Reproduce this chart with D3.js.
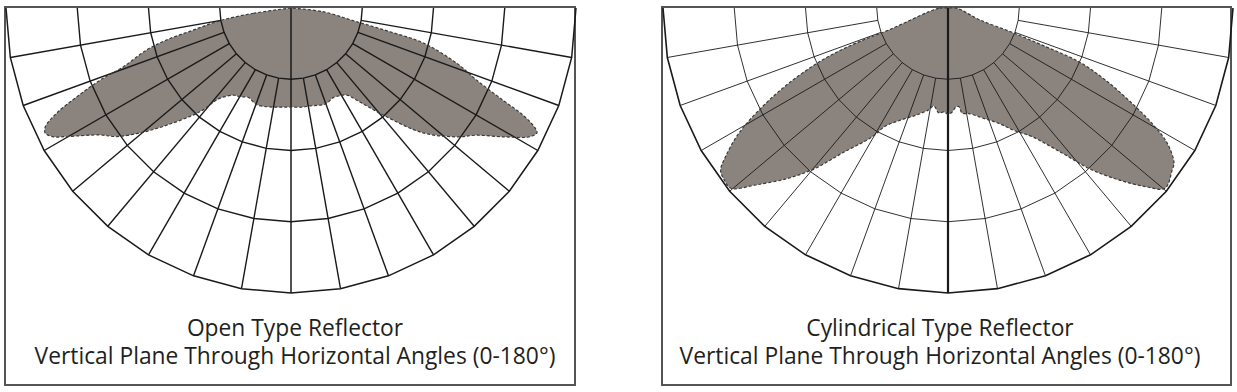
<!DOCTYPE html>
<html>
<head>
<meta charset="utf-8">
<script src="https://cdn.jsdelivr.net/npm/d3@7"></script>
<style>
  body { margin: 0; background: #fff; }
  text { font-family: "Open Sans", "Noto Sans", sans-serif; fill: #231f20; }
</style>
</head>
<body>
<svg id="canvas" width="1237" height="392"></svg>
<script>
// ###############
// chart data (angles in degrees from nadir, + = right side)
// ###############
var ringValues  = [100, 200, 300, 400];
var spokeAngles = [-80, -70, -60, -50, -40, -30, -20, -10, 10, 20, 30, 40, 50, 60, 70, 80];
var ringAngles  = [-90, -80, -70, -60, -50, -40, -30, -20, -10, 0, 10, 20, 30, 40, 50, 60, 70, 80, 90];

// Open type reflector curve
var openAngles = [-90, -82, -79.9, -77.3, -75.6, -73.8, -70.7, -69.3, -67.5, -65.8, -64.2, -63, -61.5,
                  -60.2, -56.4, -53.6, -50.4, -46.7, -41.3, -38.2, -33, -29.9, -25.7, -19.5, -12, -6, 0,
                  6, 11, 16, 20.5, 25.2, 29.1, 32.6, 35.5, 40.7, 46.6, 52.2, 55.6, 58.7, 61.7, 63.1, 63.8,
                  65.2, 66.5, 68.8, 71.5, 75.2, 76.5, 78.2, 83.4, 90];
var openValues = [0, 53, 101, 140, 180, 211, 249, 286, 325, 361, 383, 387, 379,
                  363, 322, 304, 275, 240, 194, 161, 146, 144, 139, 144, 142, 140, 139,
                  140, 140, 142, 143, 139, 141, 145, 159, 198, 255, 295, 316, 348, 381, 387, 382,
                  359, 324, 279, 246, 192, 143, 94, 45, 0];

// Cylindrical type reflector curve
var cylAngles = [-90, -88, -69.6, -69.1, -67.5, -64.7, -62, -59.1, -56.2, -54.5, -52.5, -50.3, -47.4,
                 -43.1, -39.6, -36.1, -30.5, -28, -23, -16.1, -11, -8.2, -5, -2.3, 0, 2.3, 4.3, 6.2,
                 7.7, 11.2, 18, 23.8, 28.3, 33.2, 38.2, 41.3, 44.8, 47.9, 50.3, 54.2, 55.5, 58.3,
                 60.5, 62.6, 65.4, 67.7, 68.4, 69.2, 69.6, 88, 90];
var cylValues = [0, 13, 89, 139, 191, 247, 295, 342, 376, 392, 396, 396, 367,
                 327, 292, 252, 210, 188, 171, 156, 146, 139, 148, 146, 149, 146, 140, 139,
                 149, 151, 163, 177, 195, 216, 259, 300, 340, 374, 396, 388, 385, 362,
                 329, 291, 243, 198, 147, 96, 46, 13, 0];

var titles   = ["Open Type Reflector", "Cylindrical Type Reflector"];
var subtitle = "Vertical Plane Through Horizontal Angles (0-180°)";

// ###############
// layout
// ###############
var R = 285;
var panels = [
    { x: 5,   w: 570, cx: 291, tx: 295, title: titles[0], angles: openAngles, values: openValues,
      grid: 1.4, outer: 1.5, axis: 1.5 },
    { x: 662, w: 569, cx: 948, tx: 940, title: titles[1], angles: cylAngles, values: cylValues,
      grid: 0.9, outer: 1.6, axis: 2.2 }
];

var svg = d3.select("#canvas");

var rScale = d3.scaleLinear().domain([0, 400]).range([0, R]);
var aScale = d3.scaleLinear().domain([-180, 180]).range([-Math.PI, Math.PI]);

// angle 0 points down, positive goes right
function radialLine(){
    return d3.lineRadial()
        .angle(function(d) { return Math.PI - aScale(d[0]); })
        .radius(function(d) { return rScale(d[1]); });
}

function drawPanel(p){
    var box = svg.append("g");
    box.append("rect")
        .attr("x", p.x).attr("y", 7)
        .attr("width", p.w).attr("height", 378)
        .attr("fill", "#fff")
        .attr("stroke", "#555").attr("stroke-width", 2);

    var g = svg.append("g").attr("transform", "translate(" + p.cx + ",8)");

    var pts = p.angles.map(function(a, i) { return [a, p.values[i]]; });

    // filled distribution
    g.append("path")
        .attr("d", radialLine().curve(d3.curveCatmullRomClosed.alpha(0.5))(pts))
        .attr("fill", "#8b837e")
        .attr("stroke", "none");

    // rings (polygonal web)
    ringValues.forEach(function(v){
        g.append("path")
            .attr("d", radialLine()(ringAngles.map(function(a) { return [a, v]; })))
            .attr("fill", "none")
            .attr("stroke", "#1a1a1a")
            .attr("stroke-width", v === 400 ? p.outer : p.grid);
    });

    // spokes, starting at the first ring
    spokeAngles.forEach(function(a){
        g.append("path")
            .attr("d", radialLine()([[a, ringValues[0]], [a, ringValues[ringValues.length - 1]]]))
            .attr("stroke", "#1a1a1a")
            .attr("stroke-width", p.grid);
    });

    // vertical axis through the centre
    g.append("path")
        .attr("d", radialLine()([[0, 0], [0, 400]]))
        .attr("stroke", "#1a1a1a")
        .attr("stroke-width", p.axis);

    // dashed outline on top
    g.append("path")
        .attr("d", radialLine().curve(d3.curveCatmullRomClosed.alpha(0.5))(pts))
        .attr("fill", "none")
        .attr("stroke", "#3a3a3a")
        .attr("stroke-width", 1.2)
        .attr("stroke-dasharray", "3,2");

    box.append("text")
        .attr("x", p.tx).attr("y", 336)
        .attr("text-anchor", "middle")
        .attr("font-size", "22.8px")
        .text(p.title);
    box.append("text")
        .attr("x", p.tx).attr("y", 364)
        .attr("text-anchor", "middle")
        .attr("font-size", "22.8px")
        .text(subtitle);
}

panels.forEach(drawPanel);
</script>
</body>
</html>
